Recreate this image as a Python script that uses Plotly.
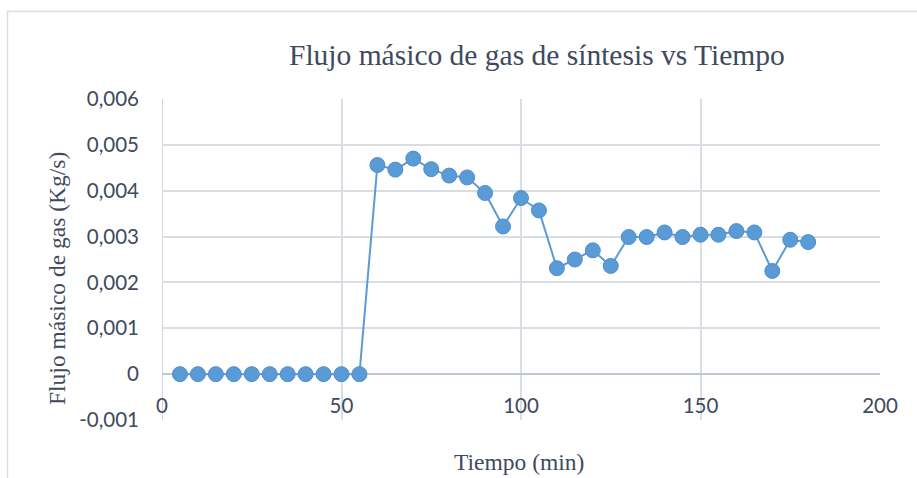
import plotly.graph_objects as go

# Tiempo (min) y flujo másico de gas de síntesis (kg/s)
tiempo = [5, 10, 15, 20, 25, 30, 35, 40, 45, 50, 55,
          60, 65, 70, 75, 80, 85, 90, 95, 100, 105,
          110, 115, 120, 125, 130, 135, 140, 145, 150, 155,
          160, 165, 170, 175, 180]
flujo = [0, 0, 0, 0, 0, 0, 0, 0, 0, 0, 0,
         0.00456, 0.00446, 0.00470, 0.00447, 0.00433, 0.00429, 0.00395, 0.00322, 0.00384, 0.00357,
         0.00231, 0.00250, 0.00270, 0.00236, 0.00299, 0.00299, 0.00309, 0.00299, 0.00304, 0.00304,
         0.00312, 0.00309, 0.00225, 0.00293, 0.00288]

y_ticks = [-0.001, 0, 0.001, 0.002, 0.003, 0.004, 0.005, 0.006]
y_labels = ["-0,001", "0", "0,001", "0,002", "0,003", "0,004", "0,005", "0,006"]
x_ticks = [0, 50, 100, 150, 200]

W, H = 917, 478
L, R, T, B = 162, 37, 99, 58
pw, ph = W - L - R, H - T - B

def px(x):
    return (x - L) / pw

def py(y):
    return 1 - (y - T) / ph

blue = "#5B9BD5"
txt = "#3E4A5E"
grid = "#D9DEE5"
serif = "'Liberation Serif', 'Times New Roman', 'DejaVu Serif', serif"
sans = "Lato, 'Open Sans', sans-serif"

fig = go.Figure()
fig.add_trace(go.Scatter(
    x=tiempo, y=flujo, mode="lines+markers",
    line=dict(color=blue, width=2),
    marker=dict(size=15, color=blue, line=dict(color="#4C8ED0", width=1)),
    showlegend=False, cliponaxis=False,
))

fig.update_layout(
    width=W, height=H,
    margin=dict(l=L, r=R, t=T, b=B),
    paper_bgcolor="white", plot_bgcolor="white",
    xaxis=dict(
        range=[0, 200], tickvals=x_ticks, showgrid=True, gridcolor=grid, gridwidth=1.5,
        zeroline=False, showline=False, ticks="",
        ticklabelposition="inside", ticklabeloverflow="allow",
        tickfont=dict(family=sans, size=20.5, color=txt),
    ),
    yaxis=dict(
        range=[-0.001, 0.006], tickvals=y_ticks, ticktext=y_labels,
        showgrid=True, gridcolor=grid, gridwidth=1.5,
        zeroline=True, zerolinecolor="#BFC7D3", zerolinewidth=1.5,
        showline=False, ticks="", ticklabelstandoff=22,
        tickfont=dict(family=sans, size=20.5, color=txt),
    ),
)

# Eje vertical en x = 0
fig.add_shape(type="line", xref="x", yref="y", x0=0, x1=0, y0=-0.001, y1=0.006,
              line=dict(color="#BFC7D3", width=1.5), layer="below")

# Borde del área del gráfico
fig.add_shape(type="rect", xref="paper", yref="paper",
              x0=px(7.5), x1=px(W + 5), y0=py(H + 5), y1=py(11.5),
              line=dict(color="#D9DEE5", width=1.5), fillcolor="rgba(0,0,0,0)")

fig.add_annotation(text="Flujo másico de gas de síntesis vs Tiempo",
                   xref="paper", yref="paper", x=px(537), y=py(55),
                   showarrow=False, xanchor="center", yanchor="middle",
                   font=dict(family=serif, size=29.5, color=txt))
fig.add_annotation(text="Flujo másico de gas (Kg/s)",
                   xref="paper", yref="paper", x=px(57), y=py(278),
                   showarrow=False, textangle=-90, xanchor="center", yanchor="middle",
                   font=dict(family=serif, size=23.5, color=txt))
fig.add_annotation(text="Tiempo (min)",
                   xref="paper", yref="paper", x=px(519), y=py(462),
                   showarrow=False, xanchor="center", yanchor="middle",
                   font=dict(family=serif, size=23.5, color=txt))

fig.write_html("out.html")
